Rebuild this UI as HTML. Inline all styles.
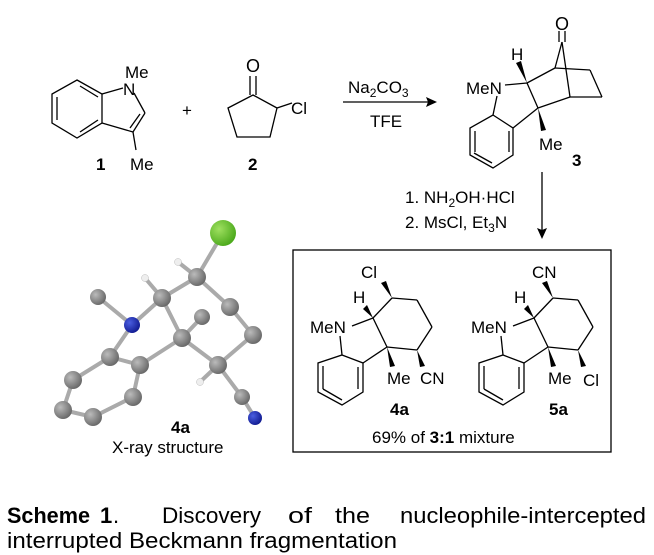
<!DOCTYPE html>
<html><head><meta charset="utf-8"><style>
html,body{margin:0;padding:0;background:#fff;}
svg{display:block;}
text{font-family:"Liberation Sans",sans-serif;fill:#000;}
</style></head><body>
<svg width="654" height="555" viewBox="0 0 654 555" xmlns="http://www.w3.org/2000/svg">
<g stroke="#000" stroke-width="1.3" fill="none">
<polygon points="77,80 102,94 102,123 77,138 52,123 52,94"/>
<line x1="57" y1="97" x2="57" y2="120"/><line x1="80" y1="86" x2="98" y2="97"/><line x1="80" y1="132" x2="98" y2="120"/>
<line x1="102" y1="94" x2="123" y2="88"/><line x1="134" y1="93" x2="145" y2="113"/>
<line x1="145" y1="113" x2="133" y2="132"/><line x1="140" y1="114" x2="130" y2="128"/>
<line x1="133" y1="132" x2="102" y2="123"/><line x1="133" y1="132" x2="136" y2="150"/>
<polygon points="253,95 277,108 270,137 237,137 228,108"/>
<line x1="250" y1="95" x2="250" y2="76"/><line x1="256" y1="95" x2="256" y2="76"/>
<line x1="277" y1="108" x2="292" y2="103"/>
<line x1="343" y1="102" x2="432" y2="102"/>
<polygon points="493,115 513,128 513,155 493,168 470,155 470,128"/>
<line x1="475" y1="131" x2="475" y2="152"/><line x1="509" y1="131" x2="509" y2="152"/><line x1="492" y1="163" x2="474" y2="153"/>
<line x1="493" y1="115" x2="497" y2="96"/><line x1="505" y1="85" x2="527" y2="83"/>
<line x1="527" y1="83" x2="555" y2="68"/><line x1="527" y1="83" x2="538" y2="108"/>
<line x1="513" y1="128" x2="538" y2="108"/><line x1="538" y1="108" x2="570" y2="97"/>
<line x1="562" y1="42" x2="555" y2="68"/><line x1="562" y1="42" x2="570" y2="97"/>
<line x1="555" y1="68" x2="590" y2="70"/><line x1="590" y1="70" x2="602" y2="97"/><line x1="602" y1="97" x2="570" y2="97"/>
<line x1="559" y1="42" x2="559" y2="31"/><line x1="565" y1="42" x2="565" y2="31"/>
<line x1="542" y1="172" x2="542" y2="233"/>
<rect x="293" y="250" width="318" height="202"/>
<polygon points="342,355 363,363 363,392 342,405 318,392 318,363"/>
<line x1="323" y1="366" x2="323" y2="389"/><line x1="358" y1="367" x2="358" y2="389"/><line x1="342" y1="400" x2="323" y2="389"/>
<line x1="342" y1="355" x2="340" y2="336"/><line x1="352" y1="326" x2="373" y2="318"/>
<line x1="373" y1="318" x2="392" y2="298"/><line x1="392" y1="298" x2="417" y2="300"/><line x1="417" y1="300" x2="432" y2="327"/><line x1="432" y1="327" x2="417" y2="350"/><line x1="417" y1="350" x2="387" y2="347"/><line x1="387" y1="347" x2="373" y2="318"/><line x1="387" y1="347" x2="363" y2="363"/>
<g transform="translate(161,0)">
<polygon points="342,355 363,363 363,392 342,405 318,392 318,363"/>
<line x1="323" y1="366" x2="323" y2="389"/><line x1="358" y1="367" x2="358" y2="389"/><line x1="342" y1="400" x2="323" y2="389"/>
<line x1="342" y1="355" x2="340" y2="336"/><line x1="352" y1="326" x2="373" y2="318"/>
<line x1="373" y1="318" x2="392" y2="298"/><line x1="392" y1="298" x2="417" y2="300"/><line x1="417" y1="300" x2="432" y2="327"/><line x1="432" y1="327" x2="417" y2="350"/><line x1="417" y1="350" x2="387" y2="347"/><line x1="387" y1="347" x2="373" y2="318"/><line x1="387" y1="347" x2="363" y2="363"/>
</g>
</g>
<g fill="#000">
<polygon points="437,102 426,97 428,102 426,107"/>
<polygon points="542,239 537,228 542,230 547,228"/>
<polygon points="527,83 516,63 521,61"/>
<polygon points="538,108 541,131 546,130"/>
<g id="w">
<polygon points="392,298 381,283 386,281"/>
<polygon points="373,318 363,309 367,305"/>
<polygon points="387,347 390,367 395,366"/>
<polygon points="417,350 420,367 425,366"/>
</g>
<use href="#w" x="161"/>
</g>
<g font-size="17">
<text x="125" y="78">Me</text><text x="123" y="95">N</text><text x="130" y="170">Me</text>
<text x="182" y="116">+</text>
<text x="246" y="72" font-size="18">O</text><text x="291" y="114">Cl</text>
<text x="348" y="93">Na<tspan font-size="12" dy="4">2</tspan><tspan dy="-4">CO</tspan><tspan font-size="12" dy="4">3</tspan></text>
<text x="370" y="127">TFE</text>
<text x="555" y="30" font-size="18">O</text>
<text x="511" y="60">H</text><text x="466" y="94">MeN</text><text x="539" y="150">Me</text>
<text x="405" y="203">1. NH<tspan font-size="12" dy="4">2</tspan><tspan dy="-4">OH·HCl</tspan></text>
<text x="405" y="228">2. MsCl, Et<tspan font-size="12" dy="4">3</tspan><tspan dy="-4">N</tspan></text>
<text x="361" y="278">Cl</text><text x="353" y="303">H</text><text x="310" y="333">MeN</text><text x="387" y="384">Me</text><text x="420" y="384">CN</text>
<text x="532" y="278">CN</text><text x="514" y="303">H</text><text x="471" y="333">MeN</text><text x="548" y="384">Me</text><text x="583" y="386">Cl</text>
<text x="372" y="443">69% of <tspan font-weight="bold">3:1</tspan> mixture</text>
<text x="112" y="453">X-ray structure</text>
</g>
<g font-size="17" font-weight="bold">
<text x="96" y="170">1</text><text x="248" y="170">2</text><text x="572" y="166">3</text>
<text x="390" y="415">4a</text><text x="549" y="415">5a</text><text x="171" y="433">4a</text>
</g>
<g stroke="#aaa" stroke-width="4">
<line x1="223" y1="233" x2="197" y2="277"/><line x1="197" y1="277" x2="178" y2="262"/><line x1="197" y1="277" x2="162" y2="298"/>
<line x1="162" y1="298" x2="145" y2="278"/><line x1="162" y1="298" x2="132" y2="325"/><line x1="132" y1="325" x2="98" y2="297"/>
<line x1="132" y1="325" x2="110" y2="357"/><line x1="162" y1="298" x2="182" y2="338"/><line x1="182" y1="338" x2="202" y2="317"/>
<line x1="182" y1="338" x2="140" y2="365"/><line x1="197" y1="277" x2="230" y2="307"/><line x1="230" y1="307" x2="253" y2="335"/>
<line x1="253" y1="335" x2="218" y2="365"/><line x1="218" y1="365" x2="182" y2="338"/><line x1="218" y1="365" x2="200" y2="382"/>
<line x1="218" y1="365" x2="242" y2="397"/><line x1="242" y1="397" x2="255" y2="418"/>
<polygon points="110,357 140,365 133,397 93,417 63,410 73,380" fill="none"/>
</g>
<defs>
<radialGradient id="g" cx="35%" cy="35%" r="70%"><stop offset="0" stop-color="#bbb"/><stop offset="1" stop-color="#666"/></radialGradient>
<radialGradient id="b" cx="35%" cy="35%" r="70%"><stop offset="0" stop-color="#4a5ee0"/><stop offset="1" stop-color="#101a90"/></radialGradient>
<radialGradient id="c" cx="35%" cy="35%" r="70%"><stop offset="0" stop-color="#9fe060"/><stop offset="1" stop-color="#4aa81a"/></radialGradient>
</defs>
<g fill="url(#g)">
<circle cx="197" cy="277" r="9"/><circle cx="162" cy="298" r="9"/><circle cx="98" cy="297" r="8"/>
<circle cx="182" cy="338" r="9"/><circle cx="202" cy="317" r="8"/><circle cx="230" cy="307" r="9"/>
<circle cx="253" cy="335" r="9"/><circle cx="218" cy="365" r="9"/><circle cx="242" cy="397" r="8"/>
<circle cx="110" cy="357" r="9"/><circle cx="140" cy="365" r="9"/><circle cx="133" cy="397" r="9"/>
<circle cx="93" cy="417" r="9"/><circle cx="63" cy="410" r="9"/><circle cx="73" cy="380" r="9"/>
</g>
<g fill="#eee" stroke="#bbb" stroke-width="0.5">
<circle cx="178" cy="262" r="3.5"/><circle cx="145" cy="278" r="3.5"/><circle cx="200" cy="382" r="3.5"/>
</g>
<circle cx="132" cy="325" r="8" fill="url(#b)"/><circle cx="255" cy="418" r="7" fill="url(#b)"/>
<circle cx="223" cy="233" r="13" fill="url(#c)"/>
<g font-size="22">
<text x="7" y="523" font-weight="bold" textLength="83" lengthAdjust="spacingAndGlyphs">Scheme</text>
<text x="100" y="523" font-weight="bold">1</text><text x="113" y="523">.</text>
<text x="162" y="523" textLength="99" lengthAdjust="spacingAndGlyphs">Discovery</text>
<text x="288" y="523" textLength="24" lengthAdjust="spacingAndGlyphs">of</text>
<text x="335" y="523" textLength="35" lengthAdjust="spacingAndGlyphs">the</text>
<text x="400" y="523" textLength="246" lengthAdjust="spacingAndGlyphs">nucleophile-intercepted</text>
<text x="7" y="548" textLength="390" lengthAdjust="spacingAndGlyphs">interrupted Beckmann fragmentation</text>
</g>
</svg>
</body></html>
